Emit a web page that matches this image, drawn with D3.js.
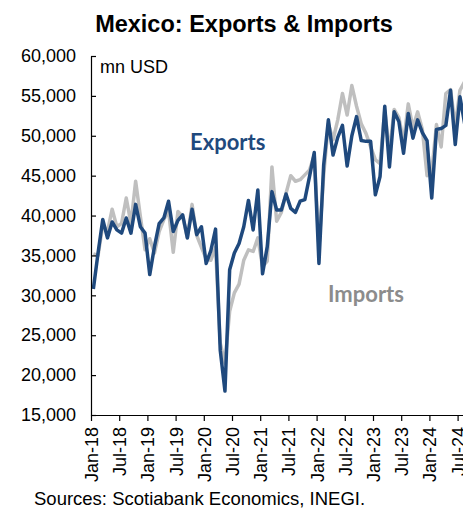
<!DOCTYPE html>
<html>
<head>
<meta charset="utf-8">
<script src="https://cdn.jsdelivr.net/npm/d3@7"></script>
<style>
  html, body { margin: 0; padding: 0; background: #fff; }
  svg { display: block; }
</style>
</head>
<body>
<script>
// ---- Data (mn USD, monthly, Jan-18 .. Aug-24) ----
const years = ["18", "19", "20", "21", "22", "23", "24"];
const monthNames = ["Jan","Feb","Mar","Apr","May","Jun","Jul","Aug","Sep","Oct","Nov","Dec"];

const exportsData = [
  30800, 35300, 39500, 37200, 39200, 38200, 37800, 39700, 37800, 41400, 38600, 37800,
  32600, 36100, 39000, 39700, 41800, 38000, 39400, 40100, 37200, 40800, 37600, 38600,
  34000, 35600, 38300, 23100, 18000, 33200, 35300, 36500, 38600, 41900, 38200, 43200,
  32700, 36100, 43000, 40700, 40700, 42700, 40900, 40400, 41800, 42000, 44900, 47900,
  34000, 46300, 52000, 47600, 49800, 51300, 46200, 50000, 52400, 49400, 49300, 49300,
  42600, 44900, 53700, 46100, 53000, 51800, 47800, 52800, 49700, 52000, 50400, 49400,
  42200, 50800, 50900, 51300, 55700, 48900, 54900, 51500
];
const importsData = [
  35200, 35000, 38800, 38000, 40800, 38600, 39000, 42200, 39000, 44300, 39900, 35700,
  37100, 35300, 38000, 39500, 40600, 35400, 40500, 39900, 37200, 41400, 37500, 36000,
  34600, 34400, 36000, 24000, 21500, 28000, 30300, 31400, 34400, 35700, 35500, 37200,
  33600, 34300, 46100, 39300, 40400, 42800, 45000, 44300, 44500, 45100, 45700, 47600,
  36000, 45000, 51500, 49500, 52000, 55300, 52600, 56300, 53700, 51500, 50300, 48600,
  47000, 46500, 53200, 47900, 53300, 52300, 49200, 54000, 51000, 53000, 50800, 45000,
  45500, 51400, 48600, 55300, 55800, 51200, 55700, 56800
];
const xTickLabels = ["Jan-18","Jul-18","Jan-19","Jul-19","Jan-20","Jul-20","Jan-21",
  "Jul-21","Jan-22","Jul-22","Jan-23","Jul-23","Jan-24","Jul-24"];
const yTicks = [15000, 20000, 25000, 30000, 35000, 40000, 45000, 50000, 55000, 60000];

const categories = [];
years.forEach(y => monthNames.forEach(m => categories.push(m + "-" + y)));
const n = exportsData.length;

// ---- Layout ----
const W = 463, H = 508;
const x0 = 91, monthW = 4.7;
const svg = d3.select("body").append("svg").attr("width", W).attr("height", H);

const x = d3.scaleLinear().domain([0, n]).range([x0, x0 + n * monthW]);
const y = d3.scaleLinear().domain([15000, 60000]).range([415, 56]);

// Title
svg.append("text")
  .attr("x", 244).attr("y", 32)
  .attr("text-anchor", "middle")
  .attr("font-family", "Liberation Sans, Arial, sans-serif")
  .attr("font-weight", "bold")
  .attr("font-size", 23.5)
  .attr("fill", "#000")
  .text("Mexico: Exports & Imports");

// Lines
const line = d3.line()
  .x((d, i) => x(i + 0.5))
  .y(d => y(d));

svg.append("path")
  .datum(importsData)
  .attr("d", line)
  .attr("fill", "none")
  .attr("stroke", "#BFBFBF")
  .attr("stroke-width", 3.5)
  .attr("stroke-linejoin", "round");

svg.append("path")
  .datum(exportsData)
  .attr("d", line)
  .attr("fill", "none")
  .attr("stroke", "#1F497D")
  .attr("stroke-width", 3.5)
  .attr("stroke-linejoin", "round");

// Y axis
const yAxis = svg.append("g")
  .attr("transform", `translate(${x0},0)`)
  .call(d3.axisLeft(y).tickValues(yTicks).tickSizeInner(-5).tickSizeOuter(0)
    .tickPadding(15).tickFormat(d3.format(",")));
yAxis.select(".domain").attr("stroke", "#000").attr("stroke-width", 1.2);
yAxis.selectAll(".tick line").attr("stroke", "#000").attr("stroke-width", 1.2);
yAxis.selectAll("text")
  .attr("font-family", "Liberation Sans, Arial, sans-serif")
  .attr("font-size", 18)
  .attr("fill", "#000");

// X axis
const xTickPos = xTickLabels.map((d, k) => k * 6);
const xAxis = svg.append("g")
  .attr("transform", `translate(0,${y(15000)})`)
  .call(d3.axisBottom(x).tickValues(xTickPos).tickSizeInner(6).tickSizeOuter(0)
    .tickFormat((d, k) => xTickLabels[k]));
xAxis.select(".domain").attr("stroke", "#000").attr("stroke-width", 1.2);
xAxis.selectAll(".tick line").attr("stroke", "#000").attr("stroke-width", 1.2);
xAxis.selectAll("text")
  .attr("font-family", "Liberation Sans, Arial, sans-serif")
  .attr("font-size", 18)
  .attr("fill", "#000")
  .attr("text-anchor", "end")
  .attr("transform", "rotate(-90)")
  .attr("x", -12)
  .attr("y", 0)
  .attr("dy", "0.36em");

// Unit label
svg.append("text")
  .attr("x", 100).attr("y", 73)
  .attr("font-family", "Liberation Sans, Arial, sans-serif")
  .attr("font-size", 18)
  .attr("fill", "#000")
  .text("mn USD");

// Series labels
svg.append("text")
  .attr("x", 190).attr("y", 150)
  .attr("font-family", "Lato, 'Open Sans', sans-serif")
  .attr("font-weight", "bold")
  .attr("font-size", 22)
  .attr("fill", "#1F497D")
  .text("Exports");

svg.append("text")
  .attr("x", 328).attr("y", 302)
  .attr("font-family", "Lato, 'Open Sans', sans-serif")
  .attr("font-weight", "bold")
  .attr("font-size", 22)
  .attr("fill", "#8C8C8C")
  .text("Imports");

// Source
svg.append("text")
  .attr("x", 34).attr("y", 505)
  .attr("font-family", "Liberation Sans, Arial, sans-serif")
  .attr("font-size", 18.5)
  .attr("fill", "#000")
  .text("Sources: Scotiabank Economics, INEGI.");
</script>
</body>
</html>
